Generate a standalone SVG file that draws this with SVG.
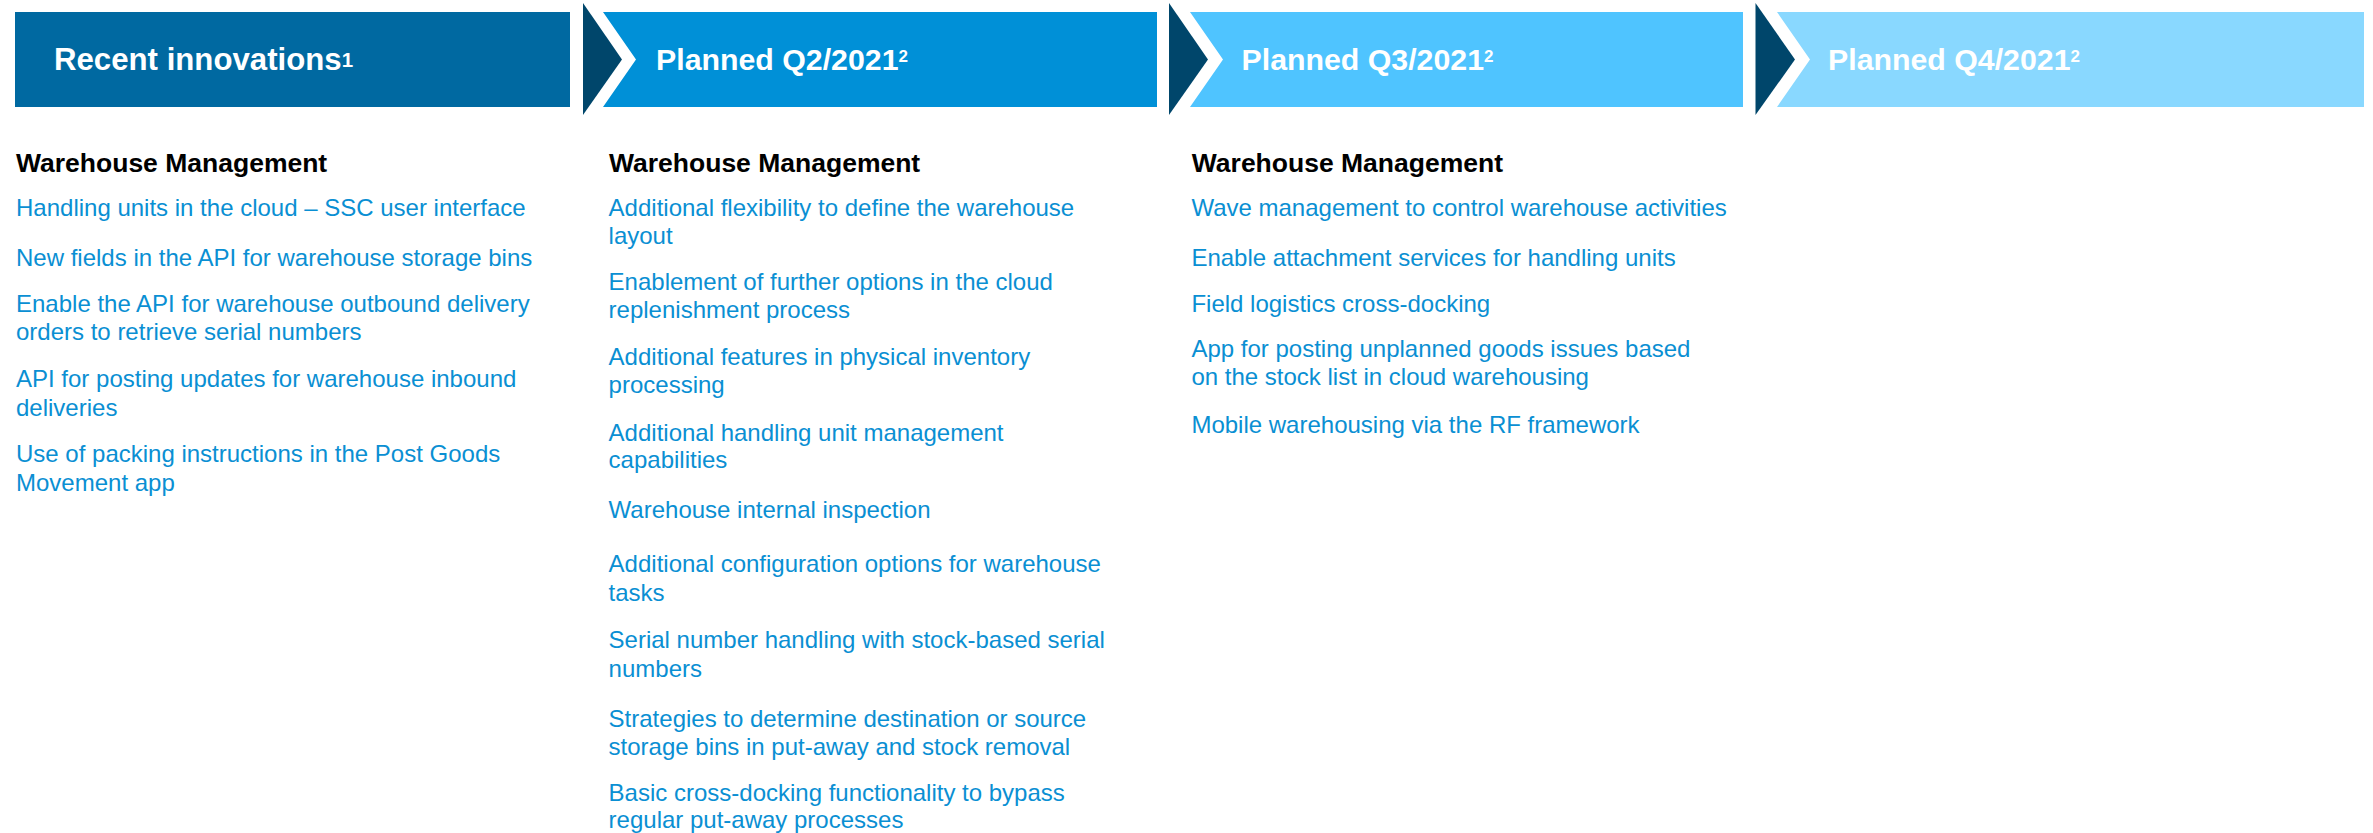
<svg xmlns="http://www.w3.org/2000/svg" width="2373" height="833" viewBox="0 0 2373 833">
<style>
.hd{font-family:"Liberation Sans",Arial,sans-serif;font-weight:bold;font-size:30.3px;fill:#ffffff}
.sup{font-size:17px}
.sec{font-family:"Liberation Sans",Arial,sans-serif;font-weight:bold;font-size:26.5px;fill:#000000}
.it{font-family:"Liberation Sans",Arial,sans-serif;font-size:24px;fill:#0A8FD3}
.chev{fill:#00466B}
</style>
<rect width="2373" height="833" fill="#ffffff"/>
<g id="header-recent">
<rect x="15" y="12" width="555" height="95" fill="#0069A1"/>
<text class="hd" x="54" y="70" style="font-size:31.2px">Recent innovations<tspan dy="-3.5" style="font-size:20.5px">1</tspan></text>
</g>
<g id="connectors">
<polygon class="chev" points="583,3 622,59.5 583,115"/>
<polygon class="chev" points="1169,3 1208,59.5 1169,115"/>
<polygon class="chev" points="1755.5,3 1795,59.5 1755.5,115"/>
</g>
<g id="header-q2">
<polygon points="603,12 1157,12 1157,107 603,107 636,59.5" fill="#0090D7"/>
<text class="hd" x="656" y="70">Planned Q2/2021<tspan class="sup" dy="-8.5">2</tspan></text>
</g>
<g id="header-q3">
<polygon points="1190,12 1743,12 1743,107 1190,107 1223,59.5" fill="#4FC4FF"/>
<text class="hd" x="1241.5" y="70">Planned Q3/2021<tspan class="sup" dy="-8.5">2</tspan></text>
</g>
<g id="header-q4">
<polygon points="1777,12 2364,12 2364,107 1777,107 1810,59.5" fill="#89D8FF"/>
<text class="hd" x="1828" y="70">Planned Q4/2021<tspan class="sup" dy="-8.5">2</tspan></text>
</g>
<g id="col-recent">
<text class="sec" x="16" y="171.7">Warehouse Management</text>
<text class="it" x="16" y="216">Handling units in the cloud – SSC user interface</text>
<text class="it" x="16" y="266">New fields in the API for warehouse storage bins</text>
<text class="it" x="16" y="311.7">Enable the API for warehouse outbound delivery</text>
<text class="it" x="16" y="340">orders to retrieve serial numbers</text>
<text class="it" x="16" y="387.3">API for posting updates for warehouse inbound</text>
<text class="it" x="16" y="415.7">deliveries</text>
<text class="it" x="16" y="462.3">Use of packing instructions in the Post Goods</text>
<text class="it" x="16" y="491">Movement app</text>
</g>
<g id="col-q2">
<text class="sec" x="609" y="171.7">Warehouse Management</text>
<text class="it" x="608.6" y="216">Additional flexibility to define the warehouse</text>
<text class="it" x="608.6" y="244.3">layout</text>
<text class="it" x="608.6" y="290">Enablement of further options in the cloud</text>
<text class="it" x="608.6" y="318.3">replenishment process</text>
<text class="it" x="608.6" y="365">Additional features in physical inventory</text>
<text class="it" x="608.6" y="393.3">processing</text>
<text class="it" x="608.6" y="441">Additional handling unit management</text>
<text class="it" x="608.6" y="468.3">capabilities</text>
<text class="it" x="608.6" y="518.3">Warehouse internal inspection</text>
<text class="it" x="608.6" y="572.3">Additional configuration options for warehouse</text>
<text class="it" x="608.6" y="600.7">tasks</text>
<text class="it" x="608.6" y="648.3">Serial number handling with stock-based serial</text>
<text class="it" x="608.6" y="676.7">numbers</text>
<text class="it" x="608.6" y="726.7">Strategies to determine destination or source</text>
<text class="it" x="608.6" y="755">storage bins in put-away and stock removal</text>
<text class="it" x="608.6" y="800.7">Basic cross-docking functionality to bypass</text>
<text class="it" x="608.6" y="828.3">regular put-away processes</text>
</g>
<g id="col-q3">
<text class="sec" x="1191.8" y="171.7">Warehouse Management</text>
<text class="it" x="1191.4" y="216">Wave management to control warehouse activities</text>
<text class="it" x="1191.4" y="266">Enable attachment services for handling units</text>
<text class="it" x="1191.4" y="311.7">Field logistics cross-docking</text>
<text class="it" x="1191.4" y="356.7">App for posting unplanned goods issues based</text>
<text class="it" x="1191.4" y="385">on the stock list in cloud warehousing</text>
<text class="it" x="1191.4" y="432.7">Mobile warehousing via the RF framework</text>
</g>
</svg>
